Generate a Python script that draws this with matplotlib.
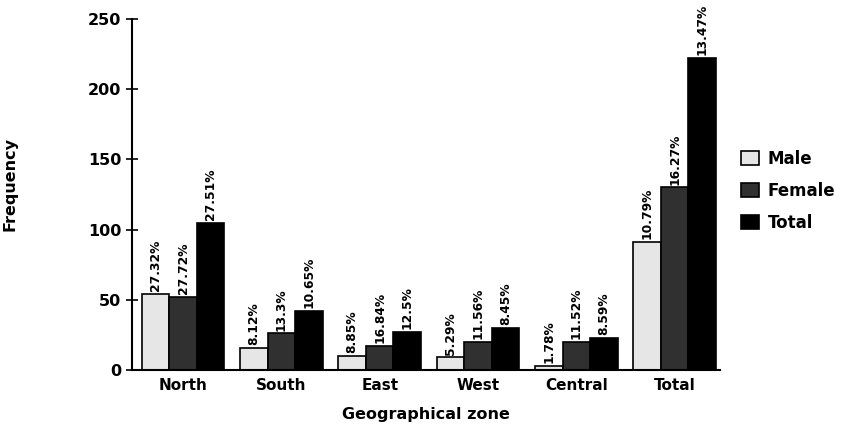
import numpy as np
import matplotlib
matplotlib.use("Agg")
import matplotlib.pyplot as plt

plt.rcParams['font.family'] = ['DejaVu Sans']
plt.rcParams['font.weight'] = 'bold'

zones = ['North', 'South', 'East', 'West', 'Central', 'Total']
male = [54, 16, 10, 9, 3, 91]
female = [52, 26, 17, 20, 20, 130]
total = [105, 42, 27, 30, 23, 222]
male_pct = ['27.32%', '8.12%', '8.85%', '5.29%', '1.78%', '10.79%']
female_pct = ['27.72%', '13.3%', '16.84%', '11.56%', '11.52%', '16.27%']
total_pct = ['27.51%', '10.65%', '12.5%', '8.45%', '8.59%', '13.47%']

fig = plt.figure(figsize=(8.51, 4.41), dpi=100)
ax = fig.add_axes([0.155, 0.161, 0.691, 0.796])

x = np.arange(len(zones))
w = 0.28
series = [
    (male, male_pct, '#e6e6e6', 'Male'),
    (female, female_pct, '#303030', 'Female'),
    (total, total_pct, 'black', 'Total'),
]
for i, (vals, pcts, col, name) in enumerate(series):
    pos = x + (i - 1) * w
    ax.bar(pos, vals, width=w, color=col, edgecolor='black', linewidth=1.2, label=name)
    for p, v, t in zip(pos, vals, pcts):
        ax.text(p, v + 2, t, rotation=90, ha='center', va='bottom',
                fontsize=8.8, fontweight='bold')

ax.set_xlim(-0.52, 5.46)
ax.set_ylim(0, 250)
ax.set_yticks([0, 50, 100, 150, 200, 250])
ax.set_xticks(x)
ax.set_xticklabels(zones)
ax.tick_params(axis='y', direction='inout', length=8, width=1.2, labelsize=11.5)
ax.tick_params(axis='x', length=0, labelsize=11, pad=6)
for s in ['top', 'right']:
    ax.spines[s].set_visible(False)
for s in ['left', 'bottom']:
    ax.spines[s].set_linewidth(1.5)

ax.set_ylabel('Frequency', fontsize=11.5, fontweight='bold')
ax.yaxis.set_label_coords(-0.195, 0.53)
ax.set_xlabel('Geographical zone', fontsize=11.5, fontweight='bold', labelpad=10)

ax.legend(loc='center left', bbox_to_anchor=(1.01, 0.51), frameon=False,
          fontsize=12, handlelength=1.1, handleheight=0.9, handletextpad=0.5,
          labelspacing=0.85)

fig.savefig('out.png', dpi=100, facecolor='white')
